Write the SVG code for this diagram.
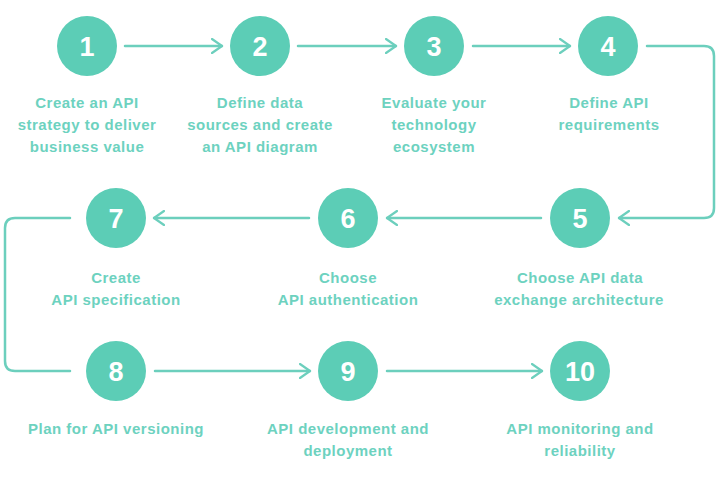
<svg xmlns="http://www.w3.org/2000/svg" width="720" height="497" viewBox="0 0 720 497">
<defs>
<style>
.node circle{fill:#5ccdb6}
.num{font-family:"Liberation Sans",Arial,sans-serif;font-size:27px;font-weight:bold;fill:#ffffff;text-anchor:middle}
.lbl{font-family:"Liberation Sans",Arial,sans-serif;font-size:15px;font-weight:bold;fill:#6dd2bf;text-anchor:middle;letter-spacing:0.5px}
.conn{fill:none;stroke:#6ccfbd;stroke-width:2.5;stroke-linecap:round;stroke-linejoin:round}
</style>
<marker id="chev" viewBox="0 0 12 16" refX="11" refY="8" markerWidth="12" markerHeight="16" markerUnits="userSpaceOnUse" orient="auto">
<path d="M1,1 L11,8 L1,15" fill="none" stroke="#6ccfbd" stroke-width="2.2" stroke-linecap="round" stroke-linejoin="round"/>
</marker>
</defs>
<rect width="720" height="497" fill="#ffffff"/>
<g id="connectors" class="conn">
<path d="M125,46 H222" marker-end="url(#chev)"/>
<path d="M298,46 H396" marker-end="url(#chev)"/>
<path d="M473,46 H570" marker-end="url(#chev)"/>
<path d="M647,46 H704 Q714,46 714,56 V208 Q714,218 704,218 H619" marker-end="url(#chev)"/>
<path d="M541,218 H387" marker-end="url(#chev)"/>
<path d="M309,218 H154" marker-end="url(#chev)"/>
<path d="M70,218 H15 Q5,218 5,228 V361 Q5,371 15,371 H70"/>
<path d="M155,371 H310" marker-end="url(#chev)"/>
<path d="M387,371 H542" marker-end="url(#chev)"/>
</g>
<g id="node1" class="node"><circle cx="87" cy="46" r="30"/><text class="num" x="87" y="56">1</text>
<text class="lbl" x="87" y="108">Create an API</text><text class="lbl" x="87" y="130">strategy to deliver</text><text class="lbl" x="87" y="152">business value</text></g>
<g id="node2" class="node"><circle cx="260" cy="46" r="30"/><text class="num" x="260" y="56">2</text>
<text class="lbl" x="260" y="108">Define data</text><text class="lbl" x="260" y="130">sources and create</text><text class="lbl" x="260" y="152">an API diagram</text></g>
<g id="node3" class="node"><circle cx="434" cy="46" r="30"/><text class="num" x="434" y="56">3</text>
<text class="lbl" x="434" y="108">Evaluate your</text><text class="lbl" x="434" y="130">technology</text><text class="lbl" x="434" y="152">ecosystem</text></g>
<g id="node4" class="node"><circle cx="608" cy="46" r="30"/><text class="num" x="608" y="56">4</text>
<text class="lbl" x="609" y="108">Define API</text><text class="lbl" x="609" y="130">requirements</text></g>
<g id="node5" class="node"><circle cx="580" cy="218" r="30"/><text class="num" x="580" y="228">5</text>
<text class="lbl" x="580" y="283">Choose API data</text><text class="lbl" x="579" y="305">exchange architecture</text></g>
<g id="node6" class="node"><circle cx="348" cy="218" r="30"/><text class="num" x="348" y="228">6</text>
<text class="lbl" x="348" y="283">Choose</text><text class="lbl" x="348" y="305">API authentication</text></g>
<g id="node7" class="node"><circle cx="116" cy="218" r="30"/><text class="num" x="116" y="228">7</text>
<text class="lbl" x="116" y="283">Create</text><text class="lbl" x="116" y="305">API specification</text></g>
<g id="node8" class="node"><circle cx="116" cy="371" r="30"/><text class="num" x="116" y="381">8</text>
<text class="lbl" x="116" y="434">Plan for API versioning</text></g>
<g id="node9" class="node"><circle cx="348" cy="371" r="30"/><text class="num" x="348" y="381">9</text>
<text class="lbl" x="348" y="434">API development and</text><text class="lbl" x="348" y="456">deployment</text></g>
<g id="node10" class="node"><circle cx="580" cy="371" r="30"/><text class="num" x="580" y="381">10</text>
<text class="lbl" x="580" y="434">API monitoring and</text><text class="lbl" x="580" y="456">reliability</text></g>
</svg>
